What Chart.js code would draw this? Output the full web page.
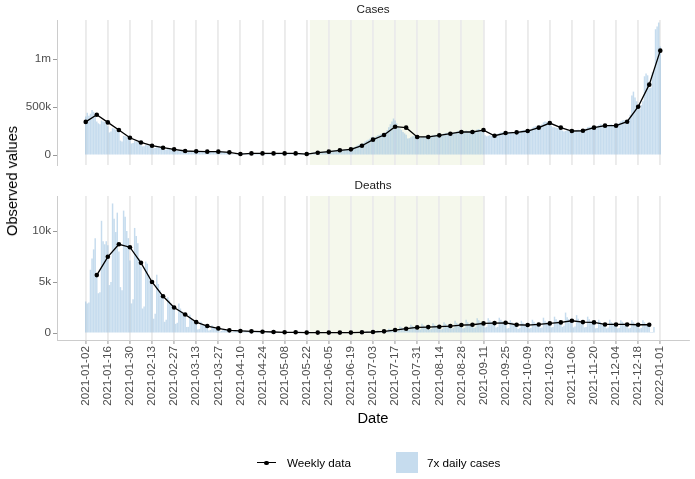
<!DOCTYPE html>
<html><head><meta charset="utf-8">
<script src="https://cdn.jsdelivr.net/npm/chart.js@4.4.0/dist/chart.umd.min.js"></script>
<style>
html,body{margin:0;padding:0;background:#fff;}
#wrap{position:relative;width:695px;height:479px;overflow:hidden;font-family:"Liberation Sans",Arial,sans-serif;}
canvas{position:absolute;left:0;}
#c1{top:0;}
#c2{top:175px;}
#ylab{position:absolute;left:12px;top:181px;transform:translate(-50%,-50%) rotate(-90deg);font-size:14.7px;color:#000;white-space:nowrap;}
.legtxt{position:absolute;font-size:11.7px;color:#000;line-height:12px;white-space:nowrap;}
</style></head>
<body><div id="wrap">
<canvas id="c1" width="695" height="175"></canvas>
<canvas id="c2" width="695" height="304"></canvas>
<div id="ylab">Observed values</div>
<div style="position:absolute;left:257px;top:462px;width:19px;height:0;border-top:1.4px solid #000;"></div>
<div style="position:absolute;left:264.3px;top:460.5px;width:4.6px;height:4.6px;border-radius:50%;background:#000;"></div>
<div class="legtxt" style="left:287px;top:457px;">Weekly data</div>
<div style="position:absolute;left:396px;top:452px;width:22px;height:21px;background:rgba(141,186,222,0.5);"></div>
<div class="legtxt" style="left:427px;top:457px;">7x daily cases</div>
</div>
<script>
// ---------------- DATA (values in thousands) ----------------
const xTickLabels = ['2021-01-02','2021-01-16','2021-01-30','2021-02-13','2021-02-27','2021-03-13','2021-03-27','2021-04-10','2021-04-24','2021-05-08','2021-05-22','2021-06-05','2021-06-19','2021-07-03','2021-07-17','2021-07-31','2021-08-14','2021-08-28','2021-09-11','2021-09-25','2021-10-09','2021-10-23','2021-11-06','2021-11-20','2021-12-04','2021-12-18','2022-01-01'];

const casesWeekDates = ['2021-01-02','2021-01-09','2021-01-16','2021-01-23','2021-01-30','2021-02-06','2021-02-13','2021-02-20','2021-02-27','2021-03-06','2021-03-13','2021-03-20','2021-03-27','2021-04-03','2021-04-10','2021-04-17','2021-04-24','2021-05-01','2021-05-08','2021-05-15','2021-05-22','2021-05-29','2021-06-05','2021-06-12','2021-06-19','2021-06-26','2021-07-03','2021-07-10','2021-07-17','2021-07-24','2021-07-31','2021-08-07','2021-08-14','2021-08-21','2021-08-28','2021-09-04','2021-09-11','2021-09-18','2021-09-25','2021-10-02','2021-10-09','2021-10-16','2021-10-23','2021-10-30','2021-11-06','2021-11-13','2021-11-20','2021-11-27','2021-12-04','2021-12-11','2021-12-18','2021-12-25','2022-01-01'];
const casesWeekly = [345,420,340,260,180, 131,97,76,59, 42,38,35,35, 28,10,17,17, 17,17,17,10,24, 35,49,59,97, 160,208,295,285,188, 188,205,222,240, 240,260,201,229, 236,250,285,333,285, 250,253,285,306, 306,347,503,733, 1087];

const deathsWeekDates = ['2021-01-09','2021-01-16','2021-01-23','2021-01-30','2021-02-06','2021-02-13','2021-02-20','2021-02-27','2021-03-06','2021-03-13','2021-03-20','2021-03-27','2021-04-03','2021-04-10','2021-04-17','2021-04-24','2021-05-01','2021-05-08','2021-05-15','2021-05-22','2021-05-29','2021-06-05','2021-06-12','2021-06-19','2021-06-26','2021-07-03','2021-07-10','2021-07-17','2021-07-24','2021-07-31','2021-08-07','2021-08-14','2021-08-21','2021-08-28','2021-09-04','2021-09-11','2021-09-18','2021-09-25','2021-10-02','2021-10-09','2021-10-16','2021-10-23','2021-10-30','2021-11-06','2021-11-13','2021-11-20','2021-11-27','2021-12-04','2021-12-11','2021-12-18','2021-12-25'];
const deathsWeekly = [5.68,7.47,8.70,8.41, 6.88,5.0,3.6,2.5, 1.82,1.07,0.68,0.45, 0.26,0.20,0.16,0.13, 0.10,0.07,0.07,0.04,0.04, 0.04,0.04,0.04,0.07, 0.10,0.16,0.29,0.42,0.55, 0.58,0.62,0.68,0.78, 0.81,0.94,0.97,1.0, 0.81,0.78,0.84,0.94,1.04, 1.2,1.07,1.04,0.84, 0.84,0.84,0.81,0.81];

const dailyStartDate = '2021-01-02';
const casesDaily7x = [
 400,
 440,410,430,470,450,420,350,
 330,320,360,350,345,340,300,
 235,245,280,275,265,255,240,
 150,140,200,195,190,180,165,
 120,125,145,140,135,130,118,
 90,92,105,102,100,97,90,
 70,72,82,80,78,76,72,
 55,54,63,62,60,58,55,
 45,42,46,45,43,41,39,
 36,37,40,40,39,38,36,
 34,34,37,37,36,35,33,
 32,33,38,37,36,36,34,
 31,32,31,29,27,25,23,
 14,9,9,10,12,15,17,
 17,16,18,19,18,17,16,
 16,17,18,18,17,17,16,
 16,16,17,18,17,16,15,
 14,15,16,18,17,17,16,
 16,17,17,18,18,17,16,
 12,11,12,13,12,11,12,
 18,20,23,25,26,27,26,
 28,30,33,36,38,39,38,
 40,44,48,50,52,55,54,
 52,56,58,60,62,63,60,
 70,80,90,100,108,115,117,
 125,140,150,160,170,185,190,
 180,195,205,210,218,225,222,
 240,260,290,320,350,380,360,
 330,300,280,260,240,225,210,
 172,175,185,195,200,195,190,
 185,180,190,195,195,190,185,
 195,200,205,210,212,208,200,
 210,215,225,230,232,228,220,
 230,235,240,245,250,245,235,
 235,245,255,250,245,238,230,
 240,250,265,270,262,255,245,
 205,195,200,205,200,198,195,
 210,220,230,235,238,235,230,
 230,235,240,242,238,235,230,
 235,245,255,260,258,250,245,
 260,270,285,295,300,295,290,
 310,320,340,350,345,335,325,
 305,290,290,285,280,270,265,
 255,245,250,255,250,245,240,
 240,250,260,262,258,252,245,
 260,275,290,295,295,290,285,
 290,300,310,320,318,310,300,
 295,305,315,320,312,305,295,
 320,335,350,360,365,360,345,
 380,420,620,660,600,560,500,
 480,520,560,820,850,830,700,
 700,860,880,1310,1340,1380,1130
];
const deathsDaily7x = [
 3.1,
 2.9,3.0,6.2,7.3,8.2,9.3,5.5,
 3.9,4.0,11.0,9.0,8.7,9.0,8.6,
 4.7,5.0,12.7,11.2,9.9,11.8,8.0,
 4.5,4.2,12.0,11.4,10.0,9.3,7.1,
 2.9,3.3,10.3,9.5,8.8,7.3,6.5,
 2.4,2.6,7.0,6.8,5.7,5.2,4.7,
 1.4,1.9,5.7,4.8,4.2,3.7,3.4,
 1.1,1.3,3.5,3.2,2.9,2.7,2.4,
 0.9,1.0,2.9,2.4,2.1,1.9,1.6,
 0.6,0.6,1.8,1.4,1.2,1.0,0.9,
 0.35,0.4,1.1,0.9,0.8,0.7,0.55,
 0.25,0.3,0.75,0.6,0.5,0.45,0.35,
 0.15,0.2,0.4,0.35,0.3,0.25,0.2,
 0.1,0.1,0.3,0.25,0.25,0.2,0.2,
 0.08,0.1,0.25,0.2,0.18,0.16,0.14,
 0.07,0.08,0.2,0.17,0.15,0.13,0.11,
 0.05,0.06,0.15,0.13,0.12,0.1,0.09,
 0.04,0.04,0.1,0.09,0.08,0.07,0.06,
 0.04,0.05,0.1,0.08,0.08,0.07,0.06,
 0.02,0.03,0.06,0.05,0.05,0.04,0.04,
 0.02,0.03,0.06,0.05,0.04,0.04,0.03,
 0.02,0.02,0.06,0.05,0.05,0.04,0.04,
 0.02,0.03,0.06,0.05,0.05,0.04,0.03,
 0.02,0.03,0.06,0.06,0.05,0.04,0.04,
 0.04,0.04,0.1,0.09,0.08,0.07,0.06,
 0.05,0.06,0.15,0.13,0.12,0.1,0.09,
 0.08,0.1,0.25,0.2,0.18,0.16,0.14,
 0.15,0.18,0.42,0.36,0.32,0.3,0.27,
 0.2,0.25,0.65,0.55,0.48,0.42,0.38,
 0.3,0.35,0.8,0.7,0.62,0.56,0.5,
 0.3,0.35,0.9,0.75,0.65,0.6,0.5,
 0.35,0.4,0.95,0.8,0.7,0.6,0.55,
 0.35,0.4,1.05,0.9,0.75,0.7,0.6,
 0.45,0.5,1.2,1.0,0.85,0.8,0.7,
 0.45,0.5,1.3,1.05,0.9,0.8,0.7,
 0.5,0.55,1.45,1.25,1.1,0.95,0.8,
 0.55,0.6,1.45,1.25,1.1,1.0,0.85,
 0.55,0.6,1.5,1.3,1.15,1.0,0.9,
 0.45,0.5,1.25,1.05,0.9,0.85,0.7,
 0.4,0.5,1.2,1.0,0.9,0.8,0.7,
 0.45,0.5,1.3,1.1,0.95,0.85,0.75,
 0.5,0.55,1.5,1.2,1.05,0.95,0.85,
 0.55,0.6,1.6,1.35,1.15,1.05,0.95,
 0.6,0.7,2.0,1.55,1.35,1.2,1.0,
 0.55,0.65,1.75,1.4,1.2,1.05,0.9,
 0.55,0.6,1.6,1.35,1.15,1.05,0.95,
 0.45,0.5,1.3,1.1,0.95,0.85,0.75,
 0.45,0.55,1.3,1.05,0.95,0.85,0.75,
 0.45,0.5,1.25,1.1,0.95,0.9,0.75,
 0.45,0.5,1.25,1.05,0.9,0.85,0.7,
 0.45,0.5,1.25,1.05,0.9,0.85,0.7,
 0.1,0.1,0.6
];

const casesYTicks = [0, 500, 1000];
const casesYTickLabels = ['0', '500k', '1m'];
const deathsYTicks = [0, 5, 10];
const deathsYTickLabels = ['0', '5k', '10k'];
const shadeStartDate = '2021-05-24';
const shadeEndDate = '2021-09-11';

// ---------------- helpers ----------------
const ORIGIN = Date.parse('2021-01-02');
const dayNum = s => (Date.parse(s) - ORIGIN) / 86400000;
const xTickValues = xTickLabels.map(dayNum);
const startDay = dayNum(dailyStartDate);
const XMIN = -18.2, XMAX = 382.2;

Chart.defaults.font.family = '"Liberation Sans", Arial, sans-serif';
Chart.defaults.color = '#4d4d4d';

const shadePlugin = {
  id: 'shade',
  beforeDraw(chart) {
    const {ctx, chartArea: a, scales: {x}} = chart;
    const x0 = x.getPixelForValue(dayNum(shadeStartDate));
    const x1 = x.getPixelForValue(dayNum(shadeEndDate));
    ctx.save();
    ctx.fillStyle = 'rgb(245,248,236)';
    ctx.fillRect(x0, a.top, x1 - x0, a.bottom - a.top);
    ctx.restore();
  }
};

function makeChart(canvasId, title, daily, weekDates, weekly, yMin, yMax, yTicks, yTickLabels, bottom) {
  const barData = daily.map((v, i) => ({x: startDay + i, y: v}));
  const lineData = weekDates.map((d, i) => ({x: dayNum(d), y: weekly[i]}));
  const xScale = {
    type: 'linear', min: XMIN, max: XMAX, offset: false,
    afterBuildTicks: s => { s.ticks = xTickValues.map(v => ({value: v})); },
    grid: {display: true, drawOnChartArea: true, drawTicks: bottom, tickLength: 4, offset: false,
           color: '#ebebeb', lineWidth: 1.9, tickColor: '#999999', tickWidth: 1},
    border: {display: bottom, color: '#cccccc', width: 1},
    ticks: bottom ? {
      display: true, autoSkip: false, minRotation: 90, maxRotation: 90, padding: 2,
      font: {size: 11.7}, color: '#4d4d4d',
      callback: (v, i) => xTickLabels[i]
    } : {display: false},
    title: bottom ? {display: true, text: 'Date', color: '#000', font: {size: 14.7},
                     padding: {top: 0, bottom: 2}} : {display: false},
    afterFit: s => { s.height = bottom ? 90 : 0; }
  };
  return new Chart(document.getElementById(canvasId), {
    type: 'bar',
    data: {
      datasets: [
        {type: 'line', label: 'Weekly data', data: lineData, order: 0,
         borderColor: '#000', borderWidth: 1.3, pointRadius: 2.3, pointBackgroundColor: '#000',
         pointBorderWidth: 0, tension: 0, fill: false},
        {type: 'bar', label: '7x daily cases', data: barData, order: 1,
         backgroundColor: 'rgba(141,186,222,0.5)', borderWidth: 0,
         barPercentage: 0.92, categoryPercentage: 1.0}
      ]
    },
    options: {
      responsive: false, animation: false, events: [],
      layout: {padding: bottom ? {top: 1, right: 6, bottom: 49, left: 0} : {top: 0, right: 6, bottom: 10, left: 0}},
      plugins: {
        legend: {display: false}, tooltip: {enabled: false},
        title: {display: true, text: title, fullSize: false, color: '#1a1a1a',
                font: {size: 11.7, weight: 'normal'}, padding: {top: 3, bottom: 3}}
      },
      scales: {
        x: xScale,
        y: {
          type: 'linear', min: yMin, max: yMax,
          afterBuildTicks: s => { s.ticks = yTicks.map(v => ({value: v})); },
          afterFit: s => { s.width = 57; },
          grid: {display: true, drawOnChartArea: false, drawTicks: true, tickLength: 4,
                 tickColor: '#999999', tickWidth: 1},
          border: {display: true, color: '#cccccc', width: 1},
          ticks: {padding: 2, font: {size: 11.7}, color: '#4d4d4d',
                  callback: (v) => yTickLabels[yTicks.indexOf(v)]}
        }
      }
    },
    plugins: [shadePlugin]
  });
}

makeChart('c1', 'Cases', casesDaily7x, casesWeekDates, casesWeekly, -104, 1406, casesYTicks, casesYTickLabels, false);
makeChart('c2', 'Deaths', deathsDaily7x, deathsWeekDates, deathsWeekly, -0.686, 13.43, deathsYTicks, deathsYTickLabels, true);
</script>
</body></html>
